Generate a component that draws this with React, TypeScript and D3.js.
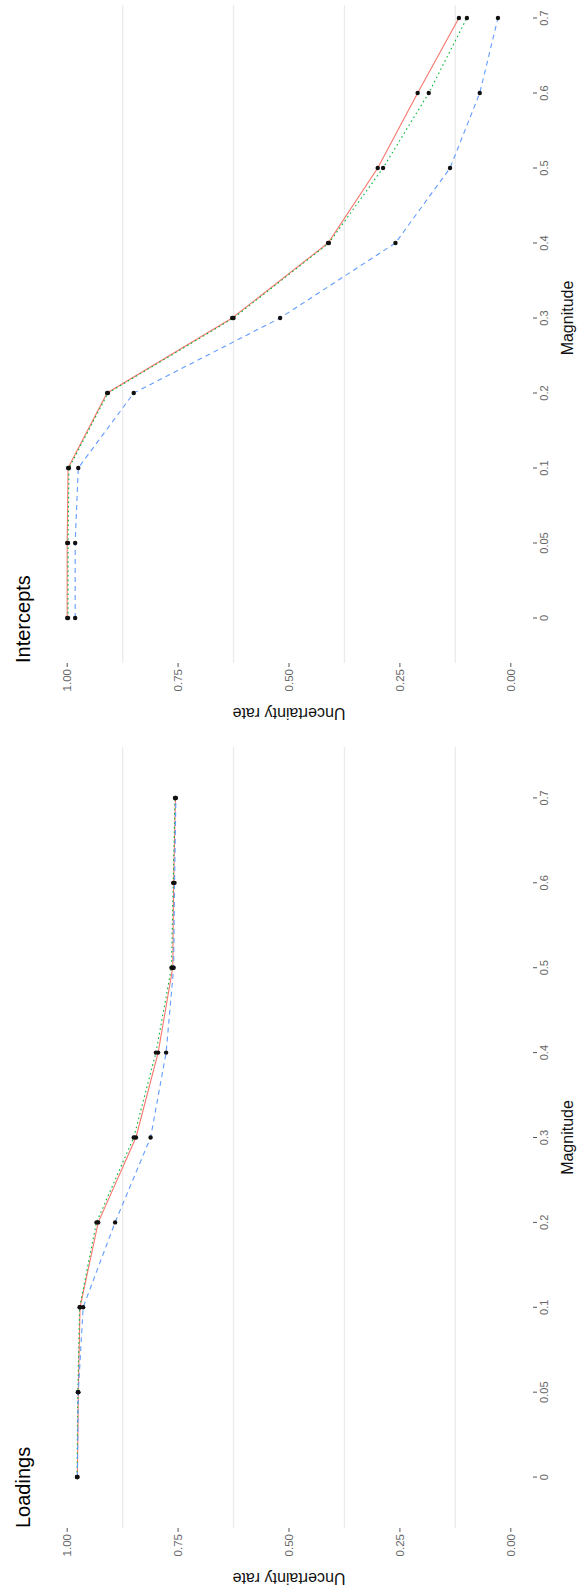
import React from "react";
import * as d3 from "d3";

const magnitudes = ["0", "0.05", "0.1", "0.2", "0.3", "0.4", "0.5", "0.6", "0.7"];
const rateTicks = [0, 0.25, 0.5, 0.75, 1];
const rateTickLabels = ["0.00", "0.25", "0.50", "0.75", "1.00"];
const minorGrid = [0.125, 0.375, 0.625, 0.875];

const loadingsRed = [0.977, 0.975, 0.971, 0.93, 0.845, 0.795, 0.762, 0.76, 0.756];
const loadingsGreen = [0.978, 0.976, 0.972, 0.934, 0.85, 0.8, 0.765, 0.761, 0.757];
const loadingsBlue = [0.977, 0.975, 0.964, 0.892, 0.812, 0.777, 0.76, 0.758, 0.755];

const interceptsRed = [1.0, 1.0, 0.998, 0.91, 0.628, 0.412, 0.3, 0.21, 0.117];
const interceptsGreen = [0.998, 0.998, 0.996, 0.908, 0.625, 0.41, 0.288, 0.185, 0.099];
const interceptsBlue = [0.982, 0.982, 0.975, 0.85, 0.52, 0.26, 0.137, 0.07, 0.029];

const seriesStyles = [
  { color: "#F8766D", dash: null },
  { color: "#00BA38", dash: "1.6,3" },
  { color: "#619CFF", dash: "5,4" },
];

const W = 578;
const H = 1591;
const FONT = "'Liberation Sans', Arial, sans-serif";

type PanelProps = {
  title: string;
  series: number[][];
  yStart: number; // screen y of panel edge where category "0" side is (bottom)
  yEnd: number; // screen y of the other edge
  gridTop: number;
  axisTitleY: number;
};

function Panel({ title, series, yStart, yEnd, gridTop, axisTitleY }: PanelProps) {
  const cat = d3.scalePoint<string>().domain(magnitudes).range([yStart, yEnd]).padding(0.6);
  const rate = d3.scaleLinear().domain([-0.05, 1.05]).range([533, 45]);
  const line = d3
    .line<number>()
    .x((d) => rate(d))
    .y((_, i) => cat(magnitudes[i]) as number);
  const mid = (yStart + yEnd) / 2;
  return (
    <g>
      {minorGrid.map((g) => (
        <line
          key={g}
          x1={rate(g)}
          x2={rate(g)}
          y1={gridTop}
          y2={yStart}
          stroke="#EBEBEB"
          strokeWidth={1.3}
        />
      ))}
      {series.map((s, k) => (
        <path
          key={k}
          d={line(s) || ""}
          fill="none"
          stroke={seriesStyles[k].color}
          strokeWidth={1.1}
          strokeDasharray={seriesStyles[k].dash || undefined}
        />
      ))}
      {series.map((s, k) =>
        s.map((v, i) => (
          <circle key={`${k}-${i}`} cx={rate(v)} cy={cat(magnitudes[i])} r={2.2} fill="#111" />
        ))
      )}
      {/* magnitude axis ticks and labels */}
      {magnitudes.map((m) => (
        <g key={m}>
          <line x1={533} x2={537} y1={cat(m)} y2={cat(m)} stroke="#555" strokeWidth={1} />
          <text
            transform={`translate(544,${cat(m)}) rotate(-90)`}
            textAnchor="middle"
            dominantBaseline="central"
            fontFamily={FONT}
            fontSize={11}
            fill="#666"
          >
            {m}
          </text>
        </g>
      ))}
      <text
        transform={`translate(567,${mid}) rotate(-90)`}
        textAnchor="middle"
        dominantBaseline="central"
        fontFamily={FONT}
        fontSize={16}
        fill="#111"
      >
        Magnitude
      </text>
      {/* rate axis ticks and labels */}
      {rateTicks.map((t, i) => (
        <g key={t}>
          <line x1={rate(t)} x2={rate(t)} y1={yStart} y2={yStart + 4} stroke="#555" strokeWidth={1} />
          <text
            transform={`translate(${rate(t)},${yStart + 6}) rotate(-90)`}
            textAnchor="end"
            dominantBaseline="central"
            fontFamily={FONT}
            fontSize={11.5}
            fill="#666"
          >
            {rateTickLabels[i]}
          </text>
        </g>
      ))}
      <text
        transform={`translate(${rate(0.5)},${axisTitleY}) rotate(180)`}
        textAnchor="middle"
        dominantBaseline="central"
        fontFamily={FONT}
        fontSize={16}
        fill="#111"
      >
        Uncertainty rate
      </text>
      <text
        transform={`translate(30,${yStart}) rotate(-90)`}
        textAnchor="start"
        fontFamily={FONT}
        fontSize={20}
        fill="#000"
      >
        {title}
      </text>
    </g>
  );
}

export default function App() {
  React.useEffect(() => {
    document.body.style.margin = "0";
  }, []);
  return (
    <svg
      width={W}
      height={H}
      viewBox={`0 0 ${W} ${H}`}
      style={{ position: "absolute", left: 0, top: 0, background: "#fff" }}
    >
      <rect width={W} height={H} fill="#fff" />
      <Panel
        title="Intercepts"
        series={[interceptsRed, interceptsGreen, interceptsBlue]}
        yStart={663}
        yEnd={-27}
        gridTop={5}
        axisTitleY={713}
      />
      <Panel
        title="Loadings"
        series={[loadingsRed, loadingsGreen, loadingsBlue]}
        yStart={1528}
        yEnd={747}
        gridTop={747}
        axisTitleY={1578}
      />
    </svg>
  );
}
